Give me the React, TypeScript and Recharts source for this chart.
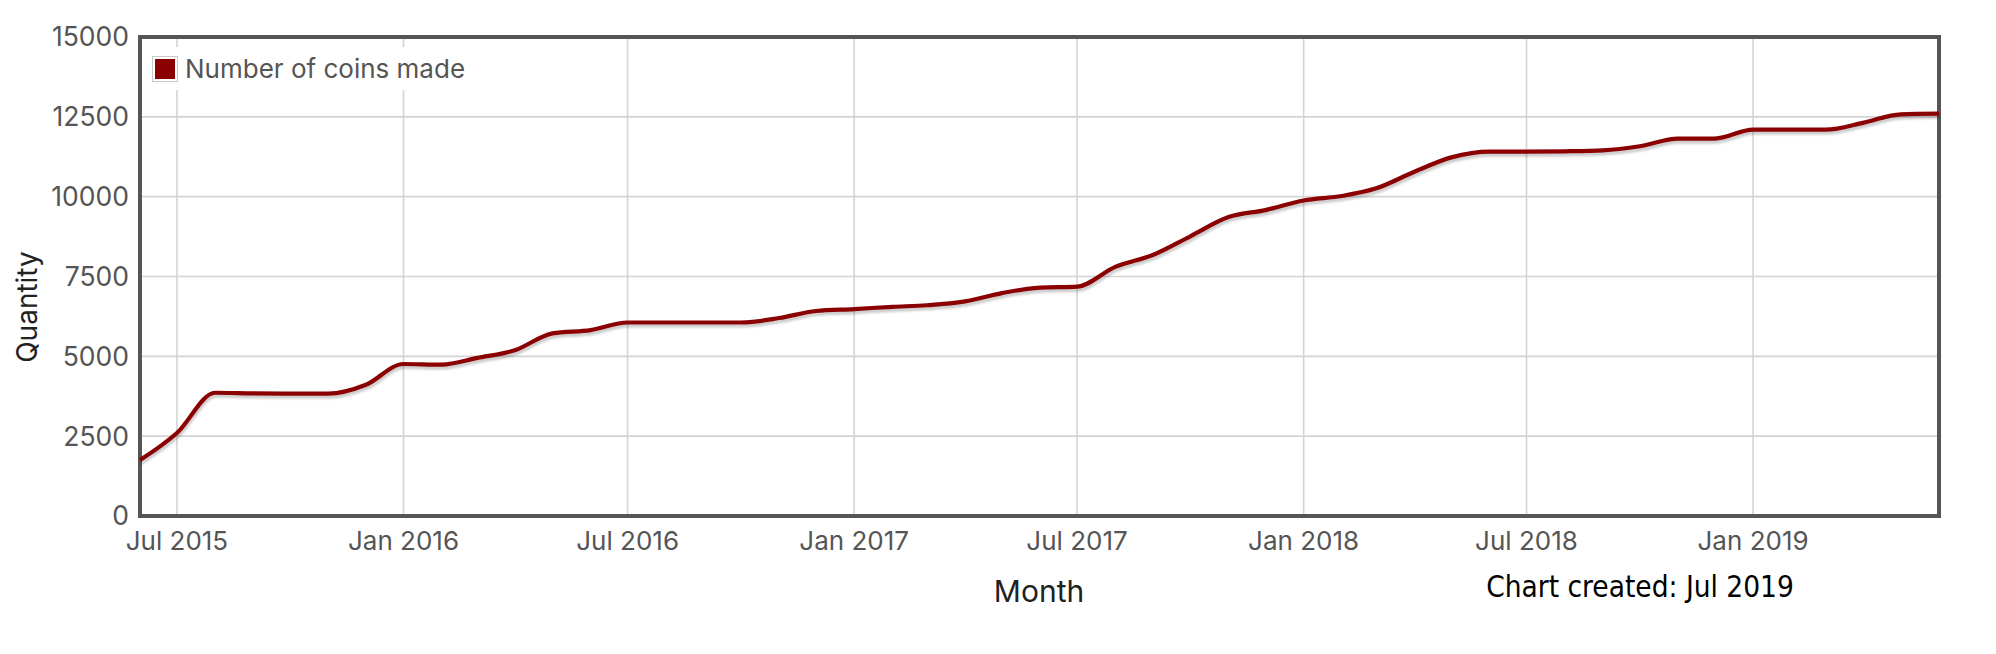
import { LineChart, Line, XAxis, YAxis, CartesianGrid, ReferenceArea } from "recharts";

// monthly totals
const months = [
  "2015-06", "2015-07", "2015-08", "2015-09", "2015-10", "2015-11", "2015-12",
  "2016-01", "2016-02", "2016-03", "2016-04", "2016-05", "2016-06", "2016-07",
  "2016-08", "2016-09", "2016-10", "2016-11", "2016-12", "2017-01", "2017-02",
  "2017-03", "2017-04", "2017-05", "2017-06", "2017-07", "2017-08", "2017-09",
  "2017-10", "2017-11", "2017-12", "2018-01", "2018-02", "2018-03", "2018-04",
  "2018-05", "2018-06", "2018-07", "2018-08", "2018-09", "2018-10", "2018-11",
  "2018-12", "2019-01", "2019-02", "2019-03", "2019-04", "2019-05", "2019-06",
];
const coinsMade = [
  1750, 2600, 3860, 3840, 3830, 3830, 4100,
  4760, 4740, 4950, 5200, 5720, 5820, 6060,
  6060, 6060, 6060, 6200, 6420, 6480, 6550,
  6600, 6720, 6980, 7150, 7180, 7800, 8180,
  8760, 9360, 9580, 9880, 10020, 10260, 10780,
  11230, 11410, 11410, 11420, 11450, 11580, 11820,
  11820, 12100, 12100, 12100, 12320, 12580, 12600,
];
const xTickMonths = ["2015-07", "2016-01", "2016-07", "2017-01", "2017-07", "2018-01", "2018-07", "2019-01"];
const yTicks = [0, 2500, 5000, 7500, 10000, 12500, 15000];

const MONTH_NAMES = ["Jan", "Feb", "Mar", "Apr", "May", "Jun", "Jul", "Aug", "Sep", "Oct", "Nov", "Dec"];

const toTime = (m: string) => {
  const [y, mo] = m.split("-").map(Number);
  return Date.UTC(y, mo - 1, 1);
};
const fmtMonth = (t: number) => {
  const d = new Date(t);
  return `${MONTH_NAMES[d.getUTCMonth()]} ${d.getUTCFullYear()}`;
};

const data = months.map((m, i) => ({ t: toTime(m), coins: coinsMade[i] }));
const xStart = data[0].t;
const xEnd = data[data.length - 1].t;

const FONT = "Inter, 'Liberation Sans', Arial, sans-serif";
const GRAY = "#555555";

export default function App() {
  return (
    <div
      style={{
        position: "fixed",
        left: 0,
        top: 0,
        width: 1996,
        height: 654,
        background: "#fff",
        fontFamily: FONT,
      }}
    >
      <style>{`.recharts-line-curve { filter: drop-shadow(1px 3px 1.2px rgba(0,0,0,0.2)); }`}</style>
      <LineChart width={1996} height={654} data={data} margin={{ top: 37, right: 57, bottom: 98, left: 0 }}>
        <CartesianGrid stroke="#d4d4d4" strokeWidth={1.6} />
        <XAxis
          dataKey="t"
          type="number"
          scale="time"
          domain={[xStart, xEnd]}
          ticks={xTickMonths.map(toTime)}
          tickFormatter={fmtMonth}
          axisLine={false}
          tickLine={false}
          tickSize={0}
          tickMargin={16}
          height={40}
          tick={{ fill: GRAY, fontSize: 26, fontFamily: FONT }}
        />
        <YAxis
          type="number"
          domain={[0, 15000]}
          ticks={yTicks}
          axisLine={false}
          tickLine={false}
          tickSize={0}
          tickMargin={11}
          width={140}
          interval={0}
          tick={{ fill: GRAY, fontSize: 26.5, fontFamily: FONT }}
        />
        <Line
          type="monotoneX"
          dataKey="coins"
          stroke="#8b0000"
          strokeWidth={4.2}
          dot={false}
          activeDot={false}
          isAnimationActive={false}
        />
        <ReferenceArea
          x1={xStart}
          x2={xEnd}
          y1={0}
          y2={15000}
          fill="none"
          fillOpacity={0}
          stroke={GRAY}
          strokeWidth={4}
          ifOverflow="visible"
        />
      </LineChart>

      {/* legend box, sits over the grid like the original */}
      <div
        style={{
          position: "absolute",
          left: 143,
          top: 47,
          width: 340,
          height: 43,
          background: "#fff",
          display: "flex",
          alignItems: "center",
        }}
      >
        <span
          style={{
            marginLeft: 10,
            width: 20,
            height: 20,
            background: "#8b0000",
            border: "2px solid #fff",
            outline: "1.5px solid #c8c8c8",
          }}
        />
        <span style={{ marginLeft: 8, fontSize: 26, color: GRAY, lineHeight: 1 }}>Number of coins made</span>
      </div>

      <div
        style={{
          position: "absolute",
          left: 27,
          top: 307,
          transform: "translate(-50%, -50%) rotate(-90deg)",
          fontSize: 28,
          color: "#222",
          lineHeight: 1,
          whiteSpace: "nowrap",
        }}
      >
        Quantity
      </div>
      <div
        style={{
          position: "absolute",
          left: 1039,
          top: 591,
          transform: "translate(-50%, -50%)",
          fontSize: 30,
          color: "#222",
          lineHeight: 1,
          whiteSpace: "nowrap",
        }}
      >
        Month
      </div>
      <div
        style={{
          position: "absolute",
          left: 1640,
          top: 588,
          transform: "translate(-50%, -50%)",
          fontSize: 29.5,
          color: "#000",
          lineHeight: 1,
          whiteSpace: "nowrap",
          fontFamily: "'DejaVu Sans Condensed', 'DejaVu Sans', sans-serif",
        }}
      >
        Chart created: Jul 2019
      </div>
    </div>
  );
}
